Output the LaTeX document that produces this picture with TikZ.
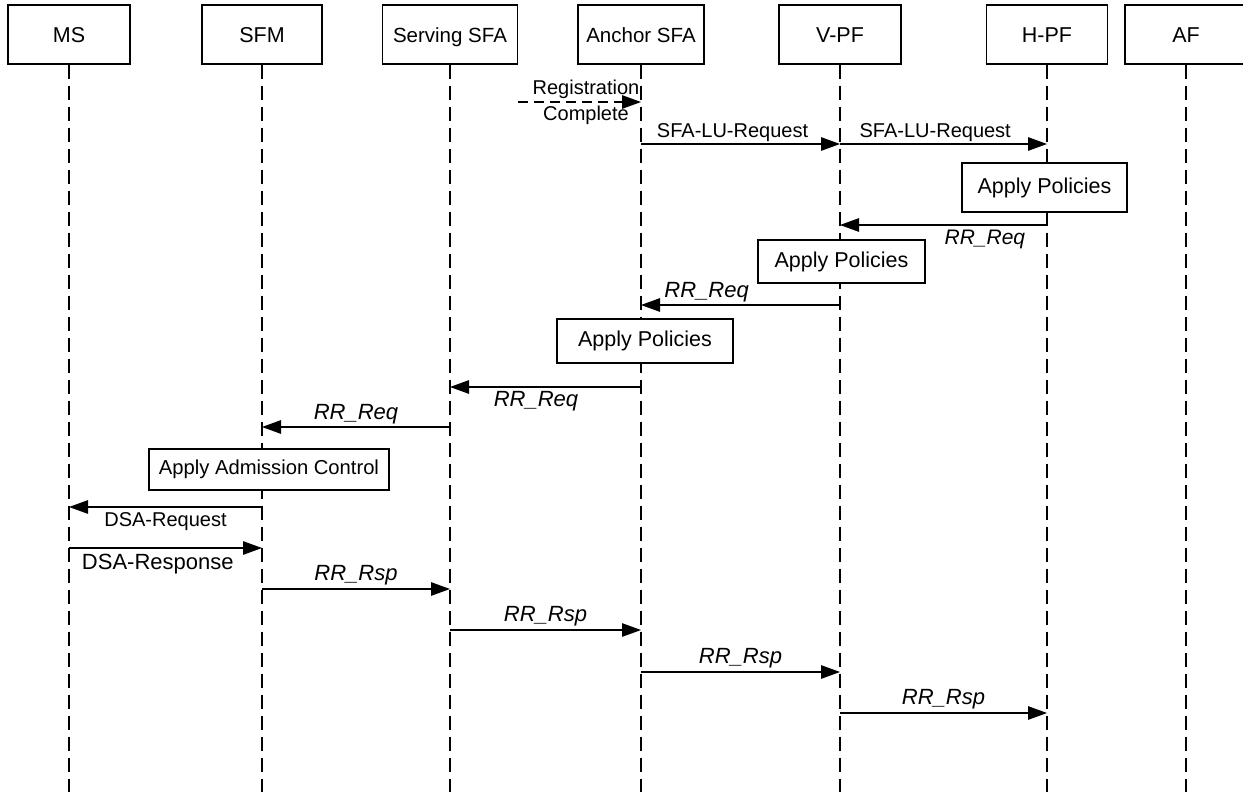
\documentclass[tikz,border=0pt]{standalone}
\usepackage{fontspec}
\setmainfont{Liberation Sans}
\usetikzlibrary{arrows.meta}

\begin{document}
\begin{tikzpicture}[x=1pt,y=-1pt,
  entity/.style={draw, line width=1.2pt, minimum height=59pt, inner sep=0pt, text height=15.5pt, text depth=0pt, font=\fontsize{21.5}{25}\selectfont},
  action/.style={draw, fill=white, line width=1.2pt, inner sep=0pt, font=\fontsize{21.5}{25}\selectfont},
  life/.style={line width=1.2pt, dash pattern=on 14pt off 7pt},
  msg/.style={line width=1.2pt, -{Triangle[length=19pt,width=13.5pt]}},
  lbl/.style={font=\fontsize{20}{26}\selectfont, inner sep=2pt},
  rr/.style={font=\fontsize{22}{26}\selectfont\itshape, inner sep=2pt}]
\useasboundingbox (0,0) rectangle (1243,792);

% entities
\node[entity, minimum width=122pt] (ms) at (69,34.5) {MS};
\node[entity, minimum width=120pt] (sfm) at (262,34.5) {SFM};
\node[entity, minimum width=135pt, font=\fontsize{20.5}{24}\selectfont] (ssfa) at (450,34.5) {Serving SFA};
\node[entity, minimum width=126pt, font=\fontsize{20.5}{24}\selectfont] (asfa) at (641,34.5) {Anchor SFA};
\node[entity, minimum width=122pt] (vpf) at (840,34.5) {V-PF};
\node[entity, minimum width=121pt] (hpf) at (1047,34.5) {H-PF};
\node[entity, minimum width=122pt] (af) at (1186,34.5) {AF};

% lifelines
\foreach \n in {ms,sfm,ssfa,asfa,vpf,hpf,af}
  \draw[life] (\n.south) -- (\n.south |- 0,792);

% location update
\coordinate (regstart) at (518,102);
\draw[msg, dash pattern=on 10pt off 6pt] (regstart) -- (asfa |- 0,102);
\node[lbl, align=center] (reg) at (586,102) {Registration\\Complete};
\draw[msg] (asfa |- 0,144) -- node[lbl, above, pos=0.46] (lu1) {SFA-LU-Request} (vpf |- 0,144);
\draw[msg] (vpf |- 0,144) -- node[lbl, above, pos=0.46] (lu2) {SFA-LU-Request} (hpf |- 0,144);

% policies and requests
\node[action, minimum width=165pt, minimum height=49pt] (ap1) at (1044.5,187.5) {Apply Policies};
\draw[msg] (hpf |- 0,225) -- node[rr, below=2pt, pos=0.3, font=\fontsize{21}{25}\selectfont\itshape] (rq1) {RR\_Req} (vpf |- 0,225);
\node[action, minimum width=167pt, minimum height=43pt] (ap2) at (841.5,261.5) {Apply Policies};
\draw[msg] (vpf |- 0,305) -- node[rr, above, pos=0.67] (rq2) {RR\_Req} (asfa |- 0,305);
\node[action, minimum width=176pt, minimum height=44pt] (ap3) at (645,341) {Apply Policies};
\draw[msg] (asfa |- 0,387) -- node[rr, below=2pt, pos=0.55] (rq3) {RR\_Req} (ssfa |- 0,387);
\draw[msg] (ssfa |- 0,427) -- node[rr, above] (rq4) {RR\_Req} (sfm |- 0,427);

% admission control
\node[action, minimum width=240pt, minimum height=41pt, font=\fontsize{20.2}{24}\selectfont] (adm) at (269,469.5) {Apply Admission Control};
\draw[msg] (sfm |- 0,507) -- node[lbl, below=3pt] (dsareq) {DSA-Request} (ms |- 0,507);
\draw[msg] (ms |- 0,548) -- node[lbl, below=4pt, pos=0.46, font=\fontsize{22}{26}\selectfont] (dsarsp) {DSA-Response} (sfm |- 0,548);

% responses
\draw[msg] (sfm |- 0,589) -- node[rr, above=1pt] (rs1) {RR\_Rsp} (ssfa |- 0,589);
\draw[msg] (ssfa |- 0,630) -- node[rr, above=1pt] (rs2) {RR\_Rsp} (asfa |- 0,630);
\draw[msg] (asfa |- 0,672) -- node[rr, above=1pt] (rs3) {RR\_Rsp} (vpf |- 0,672);
\draw[msg] (vpf |- 0,713) -- node[rr, above=1pt] (rs4) {RR\_Rsp} (hpf |- 0,713);
\end{tikzpicture}
\end{document}
